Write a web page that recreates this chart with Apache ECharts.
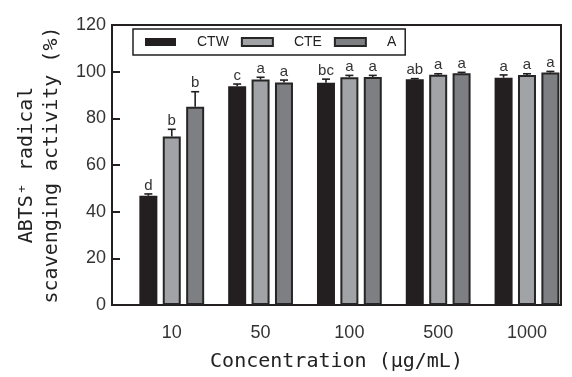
<!DOCTYPE html>
<html>
<head>
<meta charset="utf-8">
<script src="https://cdn.jsdelivr.net/npm/echarts@6/dist/echarts.min.js"></script>
<style>
  html, body { margin: 0; padding: 0; background: #fff; }
  #chart { width: 572px; height: 377px; }
</style>
</head>
<body>
<div id="chart"></div>
<script>
const categories = ['10', '50', '100', '500', '1000']
const seriesNames = ['CTW', 'CTE', 'A']

const ctwValues = [46.8, 93.7, 95.3, 96.7, 97.4]
const cteValues = [72.2, 96.6, 97.6, 98.7, 98.6]
const aValues = [85.0, 95.4, 97.7, 99.3, 99.6]

const ctwErrors = [0.8, 1.0, 1.5, 0.3, 1.2]
const cteErrors = [3.1, 1.0, 0.8, 0.4, 0.5]
const aErrors = [6.4, 1.0, 0.7, 0.4, 0.5]

const ctwLetters = ['d', 'c', 'bc', 'ab', 'a']
const cteLetters = ['b', 'a', 'a', 'a', 'a']
const aLetters = ['b', 'a', 'a', 'a', 'a']

const yTicks = [0, 20, 40, 60, 80, 100, 120]

const allValues = [ctwValues, cteValues, aValues]
const allErrors = [ctwErrors, cteErrors, aErrors]
const allLetters = [ctwLetters, cteLetters, aLetters]
const fills = ['#231f20', '#a2a3a7', '#7e7f83']

const BAR_W = 18
const BAR_STEP = 23.4

const chart = echarts.init(document.getElementById('chart'))

const barSeries = seriesNames.map((name, s) => ({
  name: name,
  type: 'bar',
  barWidth: BAR_W,
  barGap: '30%',
  itemStyle: {
    color: fills[s],
    borderColor: '#262626',
    borderWidth: s === 0 ? 0 : 2
  },
  data: allValues[s].map((v, i) => [i, v])
}))

// error bars + significance letters, one item per bar
const errItems = []
allValues.forEach((vals, s) => {
  vals.forEach((v, i) => {
    errItems.push({ s: s, i: i, v: v, e: allErrors[s][i], letter: allLetters[s][i] })
  })
})

const errSeries = {
  type: 'custom',
  z: 5,
  silent: true,
  renderItem (params, api) {
    const it = errItems[params.dataIndex]
    const base = api.coord([it.i, it.v])
    const top = api.coord([it.i, it.v + it.e])
    const cx = base[0] + (it.s - 1) * BAR_STEP
    const lineStyle = { stroke: '#231f20', lineWidth: 1.6 }
    return {
      type: 'group',
      children: [
        { type: 'line', shape: { x1: cx, y1: base[1], x2: cx, y2: top[1] }, style: lineStyle },
        { type: 'line', shape: { x1: cx - 4, y1: top[1], x2: cx + 4, y2: top[1] }, style: lineStyle },
        {
          type: 'text',
          x: cx,
          y: top[1] - 1,
          style: {
            text: it.letter,
            align: 'center',
            verticalAlign: 'bottom',
            fill: '#333',
            font: '15px "Liberation Sans", Arial, sans-serif'
          }
        }
      ]
    }
  },
  encode: { x: 0, y: 1 },
  data: errItems.map(it => [it.i, it.v + it.e])
}

const option = {
  backgroundColor: '#fff',
  animation: false,
  grid: {
    left: 112,
    right: 11,
    top: 25,
    bottom: 70,
    show: true,
    borderColor: '#231f20',
    borderWidth: 2
  },
  legend: {
    data: seriesNames,
    left: 133,
    top: 29,
    orient: 'horizontal',
    icon: 'rect',
    itemWidth: 31,
    itemHeight: 8,
    itemGap: 12,
    padding: [6, 9, 6, 12],
    borderColor: '#231f20',
    borderWidth: 1.5,
    textStyle: {
      color: '#222',
      fontSize: 14,
      fontFamily: '"Liberation Sans", Arial, sans-serif',
      padding: [0, 0, 0, 16]
    }
  },
  xAxis: {
    type: 'value',
    min: -0.673,
    max: 4.383,
    name: 'Concentration (μg/mL)',
    nameLocation: 'middle',
    nameGap: 47,
    nameTextStyle: {
      color: '#222',
      fontSize: 20,
      fontFamily: '"DejaVu Sans Mono", monospace'
    },
    axisLine: { show: true, onZero: false, lineStyle: { color: '#231f20', width: 2 } },
    axisTick: { show: false },
    splitLine: { show: false },
    axisLabel: {
      customValues: [0, 1, 2, 3, 4],
      formatter: v => categories[Math.round(v)],
      margin: 19,
      color: '#333',
      fontSize: 18,
      fontFamily: '"Liberation Sans", Arial, sans-serif'
    }
  },
  yAxis: {
    type: 'value',
    min: yTicks[0],
    max: yTicks[yTicks.length - 1],
    interval: 20,
    name: 'ABTS⁺ radical\nscavenging activity (%)',
    nameLocation: 'middle',
    nameRotate: 90,
    nameGap: 48,
    nameTextStyle: {
      color: '#222',
      fontSize: 20,
      lineHeight: 25,
      fontFamily: '"DejaVu Sans Mono", monospace'
    },
    axisLine: { show: true, onZero: false, lineStyle: { color: '#231f20', width: 2 } },
    axisTick: { show: true, inside: true, length: 8, lineStyle: { color: '#231f20', width: 2 } },
    splitLine: { show: false },
    axisLabel: {
      margin: 6,
      color: '#333',
      fontSize: 18,
      fontFamily: '"Liberation Sans", Arial, sans-serif'
    }
  },
  series: [...barSeries, errSeries]
}

chart.setOption(option)
</script>
</body>
</html>
